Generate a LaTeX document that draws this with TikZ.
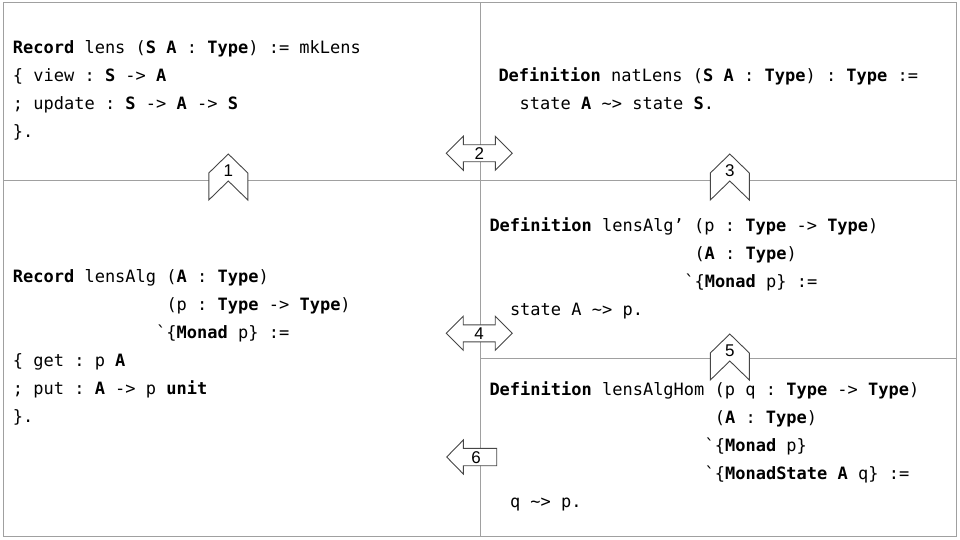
\documentclass[tikz,border=0pt]{standalone}
\usepackage{fontspec}
\setmonofont{DejaVu Sans Mono}
\newfontfamily\lblfont{Liberation Sans}
\definecolor{gridgray}{RGB}{160,160,160}
\definecolor{arrowgray}{RGB}{70,70,70}
\newcommand\upchev[4]{%
  \draw[blk] (#2,#3) -- (#2+19.5,#3+19) -- (#2+19.5,#3+46) -- (#2,#3+27)
    -- (#2-19.5,#3+46) -- (#2-19.5,#3+19) -- cycle;
  \node[lbl] (#1) at (#2,#3+16.5) {#4};}
\newcommand\dblarr[4]{%
  \draw[blk] (#2-33,#3) -- (#2-16,#3-17) -- (#2-16,#3-8.5) -- (#2+16,#3-8.5)
    -- (#2+16,#3-17) -- (#2+33,#3) -- (#2+16,#3+17) -- (#2+16,#3+8.5)
    -- (#2-16,#3+8.5) -- (#2-16,#3+17) -- cycle;
  \node[lbl] (#1) at (#2,#3) {#4};}
\begin{document}
\begin{tikzpicture}[x=1pt,y=-1pt,
  code/.style={anchor=base west, inner sep=0pt, font=\ttfamily\fontsize{17}{20}\selectfont},
  grid/.style={draw=gridgray, line width=1pt},
  blk/.style={draw=arrowgray, fill=white, line width=0.9pt, line join=miter},
  lbl/.style={font=\lblfont\fontsize{17}{19}\selectfont, inner sep=0pt}]
\useasboundingbox (0,0) rectangle (960,540);
% frame and dividers
\draw[grid] (3,3) rectangle (956.5,536.5);
\draw[grid] (480.5,3) -- (480.5,536.5);
\draw[grid] (3,180.5) -- (956.5,180.5);
\draw[grid] (480.5,358.5) -- (956.5,358.5);
% top-left
\node[code] (tl1) at (12.7,54) {\textbf{Record} lens (\textbf{S A} : \textbf{Type}) := mkLens};
\node[code] (tl2) at (12.7,82) {\{ view : \textbf{S} -> \textbf{A}};
\node[code] (tl3) at (12.7,110) {; update : \textbf{S} -> \textbf{A} -> \textbf{S}};
\node[code] (tl4) at (12.7,138) {\}.};
% top-right
\node[code] (tr1) at (498.3,82) {\textbf{Definition} natLens (\textbf{S A} : \textbf{Type}) : \textbf{Type} :=};
\node[code] (tr2) at (519.5,110) {state \textbf{A} \textasciitilde> state \textbf{S}.};
% middle-left
\node[code] (ml1) at (12.7,282) {\textbf{Record} lensAlg (\textbf{A} : \textbf{Type})};
\node[code] (ml2) at (166.3,310) {(p : \textbf{Type} -> \textbf{Type})};
\node[code] (ml3) at (156,338) {`\{\textbf{Monad} p\} :=};
\node[code] (ml4) at (12.7,366) {\{ get : p \textbf{A}};
\node[code] (ml5) at (12.7,394) {; put : \textbf{A} -> p \textbf{unit}};
\node[code] (ml6) at (12.7,422) {\}.};
% middle-right
\node[code] (mr1) at (489.3,231) {\textbf{Definition} lensAlg’ (p : \textbf{Type} -> \textbf{Type})};
\node[code] (mr2) at (694.3,259) {(\textbf{A} : \textbf{Type})};
\node[code] (mr3) at (684.1,287) {`\{\textbf{Monad} p\} :=};
\node[code] (mr4) at (509.8,315) {state A \textasciitilde> p.};
% bottom-right
\node[code] (br1) at (489.3,395) {\textbf{Definition} lensAlgHom (p q : \textbf{Type} -> \textbf{Type})};
\node[code] (br2) at (714.6,423) {(\textbf{A} : \textbf{Type})};
\node[code] (br3) at (704.4,451) {`\{\textbf{Monad} p\}};
\node[code] (br4) at (704.4,479) {`\{\textbf{MonadState A} q\} :=};
\node[code] (br5) at (509.8,507) {q \textasciitilde> p.};
% block arrows
\upchev{a1}{228.3}{154}{1}
\upchev{a3}{729.8}{154}{3}
\upchev{a5}{729.8}{334}{5}
\dblarr{a2}{479.3}{153.3}{2}
\dblarr{a4}{479.2}{333.3}{4}
\draw[blk] (446.7,457) -- (463.3,440) -- (463.3,448.3) -- (496.7,448.3)
  -- (496.7,465.7) -- (463.3,465.7) -- (463.3,474) -- cycle;
\node[lbl] (a6) at (476,457.3) {6};
\end{tikzpicture}
\end{document}
